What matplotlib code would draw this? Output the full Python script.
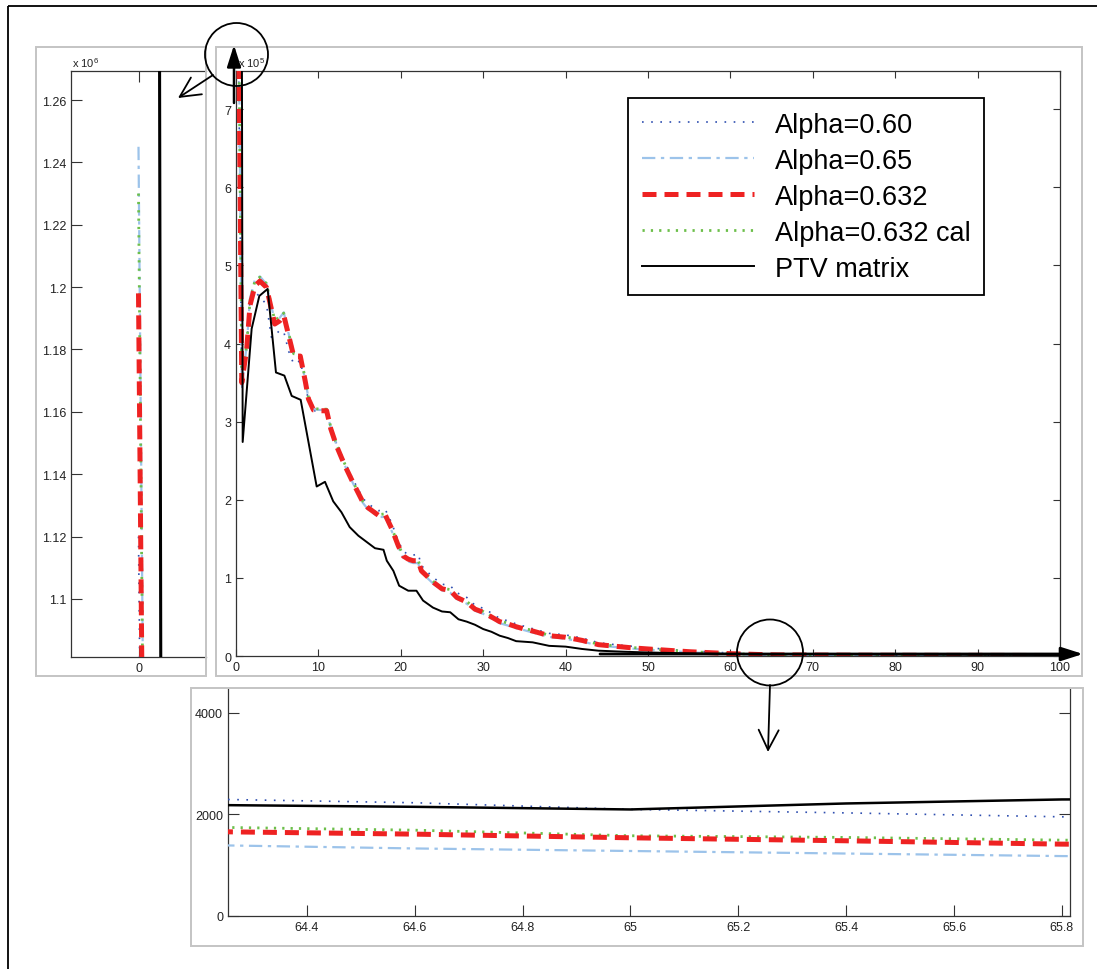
import numpy as np
import matplotlib
matplotlib.use("Agg")
from matplotlib import pyplot as plt
from matplotlib.patches import Rectangle, Circle

plt.rcParams['font.family'] = ['Liberation Sans', 'DejaVu Sans']
plt.rcParams['mathtext.fontset'] = 'custom'
plt.rcParams['mathtext.rm'] = 'Liberation Sans'
plt.rcParams['mathtext.default'] = 'regular'

# dose grid of the four alpha curves (values in units of 1e5)
xc = [0, 0.7, 1.3, 1.7, 2.3, 2.9, 3.7, 4.3, 4.7, 5.3,
      5.8, 6.4, 7.0, 7.8, 8.4, 8.8, 9.4, 10.2, 11.0, 11.5,
      12.2, 13.2, 14.2, 15.4, 16.0, 17.3, 18.1, 18.9, 19.7, 20.3,
      20.9, 21.5, 22.1, 22.5, 23.1, 24, 25, 26, 26.8, 28,
      29, 30, 31, 32, 33, 34, 35, 36, 38, 40,
      42, 44, 46, 48, 50, 55, 60, 64.25, 64.6, 65,
      65.4, 65.8, 70, 75, 80, 85, 90, 95, 100]

alpha060 = [11.20, 3.40, 3.95, 4.57, 4.66, 4.60, 4.50, 4.08, 4.10, 4.17,
            4.15, 3.90, 3.74, 3.78, 3.48, 3.27, 3.14, 3.14, 3.15, 2.93,
            2.72, 2.48, 2.26, 2.02, 1.95, 1.86, 1.88, 1.70, 1.47, 1.34,
            1.30, 1.29, 1.31, 1.16, 1.09, 1.00, 0.92, 0.90, 0.81, 0.75,
            0.65, 0.61, 0.55, 0.48, 0.45, 0.41, 0.38, 0.35, 0.29, 0.27,
            0.23, 0.17, 0.145, 0.125, 0.105, 0.065, 0.038, 0.02295, 0.0223, 0.0210,
            0.0203, 0.01953, 0.017, 0.015, 0.013, 0.012, 0.011, 0.010, 0.009]

alpha065 = [12.45, 3.45, 3.98, 4.58, 4.82, 4.86, 4.76, 4.48, 4.28, 4.33,
            4.40, 4.12, 3.86, 3.85, 3.53, 3.30, 3.16, 3.15, 3.15, 2.92,
            2.70, 2.44, 2.21, 1.96, 1.88, 1.78, 1.78, 1.60, 1.39, 1.26,
            1.21, 1.19, 1.19, 1.07, 1.01, 0.92, 0.84, 0.81, 0.73, 0.67,
            0.58, 0.54, 0.48, 0.42, 0.39, 0.355, 0.33, 0.30, 0.245, 0.22,
            0.185, 0.135, 0.115, 0.095, 0.08, 0.048, 0.025, 0.0139, 0.0133, 0.0128,
            0.0123, 0.0118, 0.010, 0.008, 0.007, 0.006, 0.006, 0.005, 0.005]

alpha0632 = [11.98, 3.50, 3.93, 4.49, 4.74, 4.80, 4.72, 4.44, 4.25, 4.29,
             4.36, 4.10, 3.84, 3.84, 3.52, 3.29, 3.15, 3.14, 3.14, 2.91,
             2.69, 2.44, 2.22, 1.97, 1.90, 1.80, 1.81, 1.63, 1.41, 1.28,
             1.24, 1.22, 1.22, 1.09, 1.03, 0.94, 0.86, 0.84, 0.75, 0.69,
             0.60, 0.56, 0.50, 0.44, 0.41, 0.375, 0.345, 0.32, 0.26, 0.24,
             0.20, 0.145, 0.125, 0.105, 0.09, 0.055, 0.03, 0.01658, 0.01612, 0.0154,
             0.01481, 0.01415, 0.012, 0.010, 0.009, 0.008, 0.008, 0.007, 0.006]

alpha0632cal = [12.30, 3.55, 3.98, 4.55, 4.80, 4.85, 4.77, 4.48, 4.30, 4.34,
                4.39, 4.13, 3.87, 3.86, 3.55, 3.31, 3.17, 3.16, 3.16, 2.93,
                2.71, 2.46, 2.23, 1.98, 1.91, 1.81, 1.82, 1.64, 1.42, 1.29,
                1.25, 1.23, 1.23, 1.10, 1.04, 0.95, 0.87, 0.85, 0.76, 0.70,
                0.61, 0.57, 0.51, 0.45, 0.42, 0.38, 0.35, 0.33, 0.265, 0.245,
                0.205, 0.15, 0.13, 0.11, 0.093, 0.057, 0.031, 0.01744, 0.0169, 0.0158,
                0.01547, 0.01494, 0.0125, 0.0105, 0.0095, 0.0085, 0.0085, 0.0075, 0.0065]

# PTV matrix curve
xb = [0.6, 0.81, 1.9, 2.83, 3.84, 4.85, 5.87, 6.76, 7.85, 9.79,
      10.8, 11.8, 12.8, 13.8, 14.85, 15.86, 16.87, 17.9, 18.3, 19.1,
      19.8, 20.9, 21.9, 22.7, 23.9, 25, 26, 27, 28, 29,
      30, 31, 32, 33, 34, 36, 38, 40, 42, 44,
      47, 50, 55, 60, 64.25, 64.6, 65, 65.4, 65.8, 70,
      80, 90, 100]
ptv = [14.0, 2.74, 4.19, 4.61, 4.70, 3.63, 3.59, 3.33, 3.28, 2.17,
       2.23, 1.98, 1.84, 1.65, 1.54, 1.46, 1.38, 1.36, 1.22, 1.09,
       0.90, 0.836, 0.836, 0.71, 0.62, 0.57, 0.56, 0.47, 0.44, 0.40,
       0.345, 0.31, 0.26, 0.23, 0.19, 0.175, 0.13, 0.12, 0.09, 0.068,
       0.055, 0.045, 0.034, 0.026, 0.02183, 0.0215, 0.02098, 0.02216, 0.02295, 0.024,
       0.02, 0.015, 0.012]

labels = ['Alpha=0.60', 'Alpha=0.65', 'Alpha=0.632', 'Alpha=0.632 cal', 'PTV matrix']

W, H = 1097, 970
fig = plt.figure(figsize=(W / 100, H / 100), dpi=100)


def box(x0, y0, x1, y1):
    return [x0 / W, 1 - y1 / H, (x1 - x0) / W, (y1 - y0) / H]


ax_l = fig.add_axes(box(71, 72, 206, 658))
ax_m = fig.add_axes(box(236, 72, 1060, 657))
ax_b = fig.add_axes(box(228, 690, 1070, 917))

series = [
    (xc, alpha060, dict(color='#2f4fb0', lw=1.2, ls=(0, (1, 4.5)), zorder=3)),
    (xc, alpha065, dict(color='#9cc3ea', lw=1.6, ls=(0, (6, 2.5, 1.5, 2.5)), zorder=3)),
    (xc, alpha0632cal, dict(color='#6cbf4a', lw=2.0, ls=(0, (0.8, 2.2)), zorder=3)),
    (xc, alpha0632, dict(color='#ee2222', lw=3.6, ls=(0, (2.8, 1.6)), zorder=4)),
    (xb, ptv, dict(color='black', lw=1.4, ls='-', zorder=5)),
]

handles = {}
for ax, scale in [(ax_m, 1.0), (ax_l, 0.1), (ax_b, 1e5)]:
    for (xs, ys, st), name in zip(series, [labels[0], labels[1], labels[3], labels[2], labels[4]]):
        st = dict(st)
        if ax is ax_l and st['color'] == 'black':
            st['lw'] = 2.2
        if ax is ax_b and st['color'] == 'black':
            st['lw'] = 1.8
        ln, = ax.plot(xs, np.array(ys) * scale, **st)
        if ax is ax_m:
            handles[name] = ln

tick_col = '#222222'
for ax in (ax_l, ax_m, ax_b):
    for s in ax.spines.values():
        s.set_color('#333333')
        s.set_linewidth(0.9)
    ax.tick_params(direction='in', colors='#333333', labelcolor=tick_col, labelsize=9, width=0.8)

# main panel
ax_m.set_xlim(0, 100)
ax_m.set_ylim(0, 7.49)
ax_m.set_xticks(np.arange(0, 101, 10))
ax_m.set_yticks(np.arange(0, 8, 1))
ax_m.set_yticklabels([str(v) for v in range(8)])
ax_m.tick_params(top=True, right=True, length=5)

# left zoom on the start
ax_l.set_xlim(-2, 2)
ax_l.set_ylim(1.0814, 1.2693)
ax_l.set_xticks([0])
ax_l.set_yticks(np.arange(1.10, 1.261, 0.02))
ax_l.set_yticklabels(['%g' % round(v, 2) for v in np.arange(1.10, 1.261, 0.02)])
ax_l.spines['right'].set_visible(False)
ax_l.tick_params(top=True, right=False, length=8)

# bottom zoom around 65
ax_b.set_xlim(64.254, 65.815)
ax_b.set_ylim(0, 4470)
ax_b.set_xticks(np.arange(64.4, 65.81, 0.2))
ax_b.set_xticklabels(['%g' % round(v, 1) for v in np.arange(64.4, 65.81, 0.2)])
ax_b.set_yticks([0, 2000, 4000])
ax_b.spines['top'].set_visible(False)
ax_b.tick_params(right=True, top=False, length=8)

fig.text(72 / W, 1 - 63 / H, r'x 10$^{6}$', fontsize=8, color=tick_col, va='center')
fig.text(238 / W, 1 - 63 / H, r'x 10$^{5}$', fontsize=8, color=tick_col, va='center')

leg = ax_m.legend([handles[l] for l in labels], labels, loc='upper left',
                  bbox_to_anchor=(628 / W, 1 - 99 / H), bbox_transform=fig.transFigure,
                  fontsize=19.5, frameon=True, fancybox=False, edgecolor='black',
                  framealpha=1, borderaxespad=0, borderpad=0.5, handlelength=4.17,
                  handletextpad=0.74, labelspacing=0.37)
leg.get_frame().set_linewidth(1.3)

# overlay for frames, circles and arrows
ov = fig.add_axes([0, 0, 1, 1], zorder=10)
ov.set_xlim(0, W)
ov.set_ylim(H, 0)
ov.axis('off')
ov.patch.set_alpha(0)

ov.add_patch(Rectangle((8, 7), 1100, 975, fill=False, ec='black', lw=1.3))
for x0, y0, x1, y1 in [(36, 48, 206, 677), (216, 48, 1082, 677), (191, 689, 1083, 947)]:
    ov.add_patch(Rectangle((x0, y0), x1 - x0, y1 - y0, fill=False, ec='#c4c4c4', lw=1.4))

ov.add_patch(Circle((236.5, 55.5), 31.5, fill=False, ec='black', lw=1.3))
ov.add_patch(Circle((770, 653.5), 33, fill=False, ec='black', lw=1.3))

ov.annotate('', xy=(234, 46), xytext=(234, 104),
            arrowprops=dict(arrowstyle='-|>,head_length=1.1,head_width=0.35', lw=1.8, color='black', shrinkA=0, shrinkB=0, mutation_scale=12))
ov.annotate('', xy=(1083, 655), xytext=(600, 655),
            arrowprops=dict(arrowstyle='-|>,head_length=1.1,head_width=0.35', lw=2.0, color='black', shrinkA=0, shrinkB=0, mutation_scale=12))
ov.annotate('', xy=(178, 99), xytext=(213, 76),
            arrowprops=dict(arrowstyle='->,head_length=0.8,head_width=0.4', lw=1.3, color='black', shrinkA=0, shrinkB=0, mutation_scale=18))
ov.annotate('', xy=(768, 753), xytext=(770, 686),
            arrowprops=dict(arrowstyle='->,head_length=0.8,head_width=0.4', lw=1.3, color='black', shrinkA=0, shrinkB=0, mutation_scale=18))

fig.savefig('out.png', dpi=100)
